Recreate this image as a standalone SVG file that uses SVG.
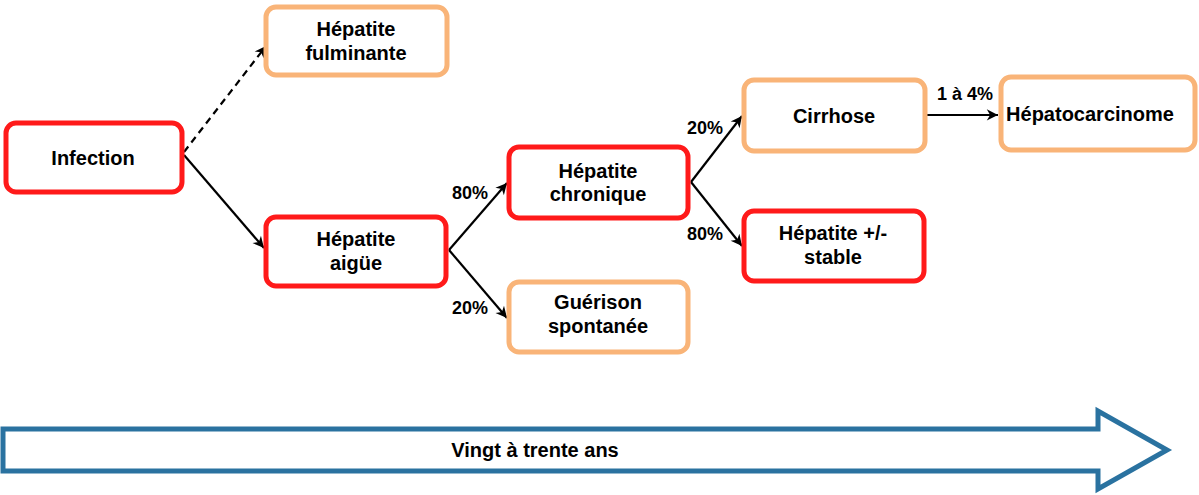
<svg xmlns="http://www.w3.org/2000/svg" width="1199" height="495" viewBox="0 0 1199 495">
<style>
.red{fill:#fff;stroke:#ff1a1a;stroke-width:5}
.ora{fill:#fff;stroke:#f9b478;stroke-width:5}
text{font-family:"Liberation Sans",Arial,sans-serif;font-weight:bold;font-size:20px;fill:#000;text-anchor:middle}
.lbl{font-size:18px}
.con{stroke:#000;stroke-width:2.2;fill:none;marker-end:url(#ah)}
</style>
<defs>
<marker id="ah" viewBox="0 0 10 10" refX="9" refY="5" markerWidth="7" markerHeight="7" markerUnits="userSpaceOnUse" orient="auto" overflow="visible">
<path d="M0,0 L10,5 L0,10 L3,5 Z" fill="#000" transform="scale(1.6) translate(-4.4,-1.9)"/>
</marker>
</defs>
<rect width="1199" height="495" fill="#fff"/>
<g id="connectors">
<line class="con" x1="184" y1="152" x2="266" y2="46" stroke-dasharray="7,5"/>
<line class="con" x1="184" y1="155" x2="264" y2="248"/>
<line class="con" x1="449" y1="250" x2="507" y2="183"/>
<line class="con" x1="449" y1="250" x2="507" y2="318"/>
<line class="con" x1="691" y1="182" x2="742" y2="116"/>
<line class="con" x1="691" y1="182" x2="742" y2="246"/>
<line class="con" x1="926" y1="115" x2="998" y2="115"/>
<text class="lbl" x="470" y="199">80%</text>
<text class="lbl" x="470" y="314">20%</text>
<text class="lbl" x="705" y="134">20%</text>
<text class="lbl" x="705" y="240">80%</text>
<text class="lbl" x="965" y="100">1 à 4%</text>
</g>
<g id="infection"><rect class="red" x="6" y="123" width="176" height="69" rx="10"/><text x="93" y="165">Infection</text></g>
<g id="fulminante"><rect class="ora" x="266" y="7" width="181" height="68" rx="10"/><text x="356" y="36">Hépatite</text><text x="356" y="60">fulminante</text></g>
<g id="aigue"><rect class="red" x="266" y="217" width="180" height="69" rx="10"/><text x="356" y="246">Hépatite</text><text x="356" y="270">aigüe</text></g>
<g id="chronique"><rect class="red" x="509" y="147" width="179" height="71" rx="10"/><text x="598" y="178">Hépatite</text><text x="598" y="201">chronique</text></g>
<g id="guerison"><rect class="ora" x="509" y="282" width="179" height="70" rx="10"/><text x="598" y="309">Guérison</text><text x="598" y="333">spontanée</text></g>
<g id="cirrhose"><rect class="ora" x="744" y="80" width="181" height="71" rx="10"/><text x="834" y="123">Cirrhose</text></g>
<g id="hepatocarcinome"><rect class="ora" x="1001" y="77" width="194" height="73" rx="10"/><text x="1090" y="121">Hépatocarcinome</text></g>
<g id="stable"><rect class="red" x="744" y="211" width="180" height="70" rx="10"/><text x="833" y="240">Hépatite +/-</text><text x="833" y="264">stable</text></g>
<g id="timeline"><path d="M3,429 H1098 V411 L1167,450 L1098,489 V471 H3 Z" fill="#fff" stroke="#2a72a0" stroke-width="5" stroke-linejoin="miter"/><text x="535" y="457">Vingt à trente ans</text></g>
</svg>
